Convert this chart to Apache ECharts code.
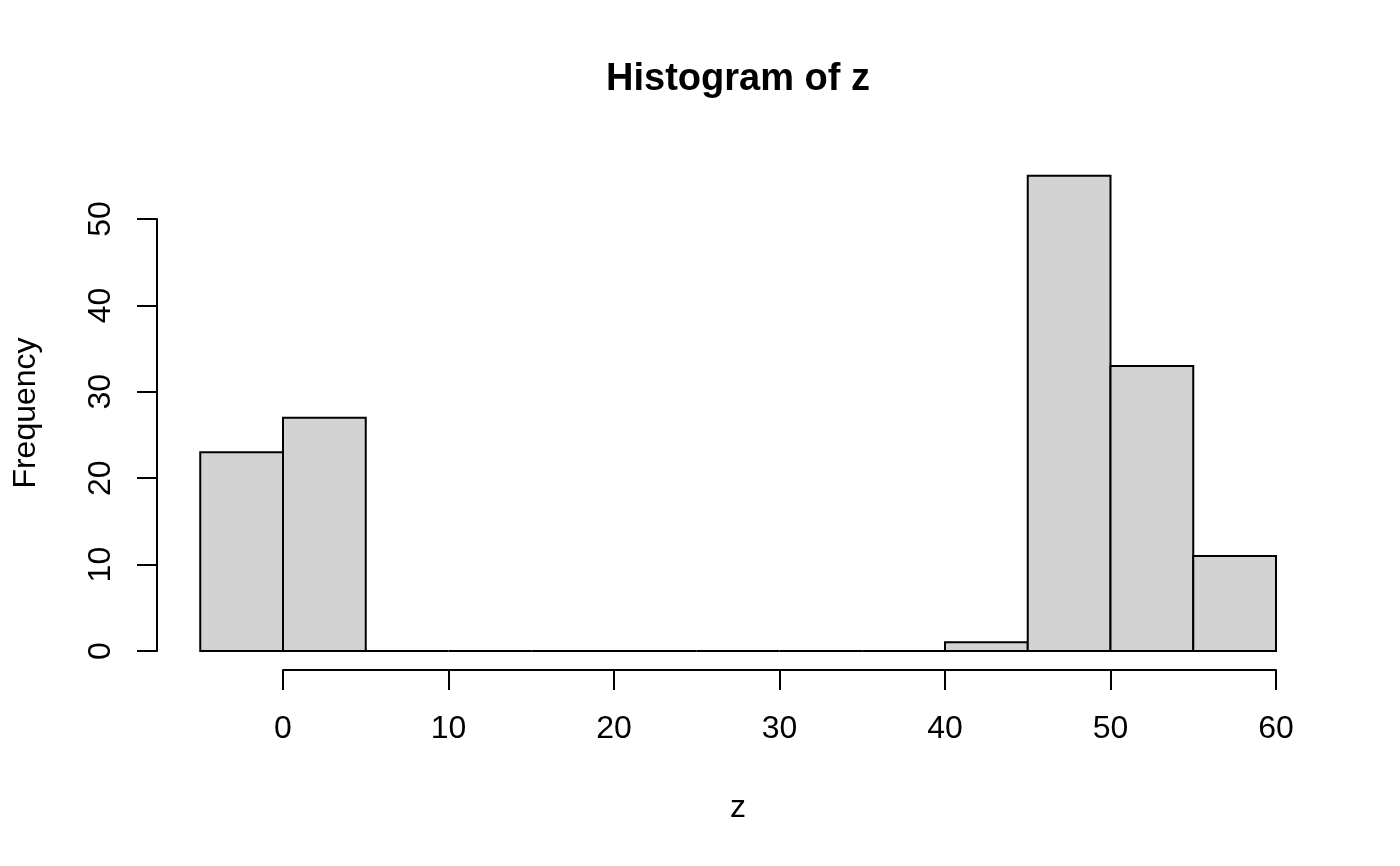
<!DOCTYPE html>
<html>
<head>
<meta charset="utf-8">
<script src="https://cdn.jsdelivr.net/npm/echarts@6/dist/echarts.min.js"></script>
<style>
html,body{margin:0;padding:0;background:#fff;}
#chart{width:1400px;height:866px;}
</style>
</head>
<body>
<div id="chart"></div>
<script>
const breaks = [-5, 0, 5, 10, 15, 20, 25, 30, 35, 40, 45, 50, 55, 60];
const counts = [23, 27, 0, 0, 0, 0, 0, 0, 0, 1, 55, 33, 11];
const xTicks = [0, 10, 20, 30, 40, 50, 60];
const yTicks = [0, 10, 20, 30, 40, 50];
const titleText = 'Histogram of z';
const xLabel = 'z';
const yLabel = 'Frequency';

const FONT = '"Liberation Sans", Arial, Helvetica, sans-serif';
const binData = counts.map((c, i) => [breaks[i], breaks[i + 1], c]);

const chart = echarts.init(document.getElementById('chart'), null, {renderer: 'canvas'});
chart.setOption({
  backgroundColor: '#ffffff',
  animation: false,
  grid: {left: 283, right: 124, top: 219, bottom: 215, containLabel: false},
  xAxis: {
    type: 'value', min: xTicks[0], max: xTicks[xTicks.length - 1], interval: 10,
    offset: 19,
    axisLine: {show: true, onZero: false, lineStyle: {color: '#000', width: 2}},
    axisTick: {show: true, length: 20, lineStyle: {color: '#000', width: 2}},
    axisLabel: {show: true, margin: 43, color: '#000', fontSize: 32, lineHeight: 32, fontFamily: FONT,
      formatter: v => String(v)},
    splitLine: {show: false}
  },
  yAxis: {
    type: 'value', min: yTicks[0], max: yTicks[yTicks.length - 1], interval: 10,
    offset: 126,
    axisLine: {show: true, onZero: false, lineStyle: {color: '#000', width: 2}},
    axisTick: {show: true, length: 20, lineStyle: {color: '#000', width: 2}},
    axisLabel: {show: true, rotate: 90, margin: 40, color: '#000', fontSize: 32, lineHeight: 32, fontFamily: FONT,
      formatter: v => String(v)},
    splitLine: {show: false}
  },
  graphic: [
    {type: 'text', x: 738, y: 80, style: {text: titleText, font: 'bold 38px ' + FONT, fill: '#000', textAlign: 'center', textVerticalAlign: 'middle'}},
    {type: 'text', x: 738, y: 808, style: {text: xLabel, font: '32px ' + FONT, fill: '#000', textAlign: 'center', textVerticalAlign: 'middle'}},
    {type: 'text', x: 26, y: 413, rotation: Math.PI / 2, style: {text: yLabel, font: '32px ' + FONT, fill: '#000', textAlign: 'center', textVerticalAlign: 'middle'}}
  ],
  series: [{
    type: 'custom',
    clip: false,
    data: binData,
    encode: {x: [0, 1], y: 2},
    renderItem: function (params, api) {
      const p0 = api.coord([api.value(0), api.value(2)]);
      const p1 = api.coord([api.value(1), 0]);
      return {
        type: 'rect',
        shape: {x: p0[0], y: p0[1], width: p1[0] - p0[0], height: p1[1] - p0[1]},
        style: {fill: '#d3d3d3', stroke: '#000', lineWidth: 2}
      };
    }
  }]
});
</script>
</body>
</html>
